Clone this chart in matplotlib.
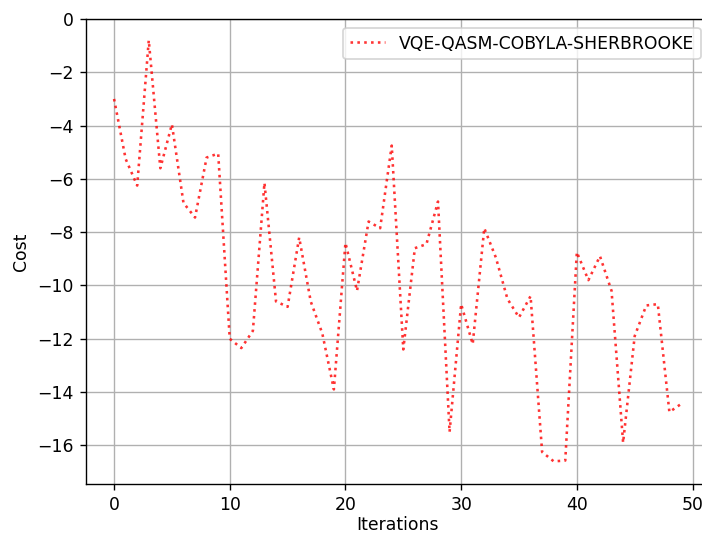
import matplotlib
matplotlib.use("Agg")
import matplotlib.pyplot as plt

# Cost per optimizer iteration
iterations = list(range(50))
cost = [
    -3.0, -5.25, -6.25, -0.8, -5.6, -3.95, -6.9, -7.45, -5.2, -5.05,
    -12.0, -12.35, -11.7, -6.15, -10.6, -10.8, -8.2, -10.6, -11.8, -13.9,
    -8.4, -10.2, -7.6, -7.85, -4.75, -12.4, -8.6, -8.45, -6.85, -15.5,
    -10.7, -12.2, -7.85, -8.95, -10.5, -11.2, -10.4, -16.25, -16.6, -16.57,
    -8.75, -9.8, -8.9, -10.2, -15.9, -11.9, -10.75, -10.7, -14.75, -14.45,
]
series_label = "VQE-QASM-COBYLA-SHERBROOKE"

DPI = 124
fig = plt.figure(figsize=(702 / DPI, 537 / DPI), dpi=DPI)
ax = fig.add_axes([0.1221, 0.0987, 0.8883, 0.8659])

ax.plot(iterations, cost, linestyle=":", color="red", alpha=0.8,
        linewidth=1.5, label=series_label)
ax.set_ylim(-17.45, 0)
ax.set_xlabel("Iterations", labelpad=1)
ax.set_ylabel("Cost")
ax.grid(True)
ax.legend(loc="upper right")

fig.savefig("out.png", dpi=DPI)
